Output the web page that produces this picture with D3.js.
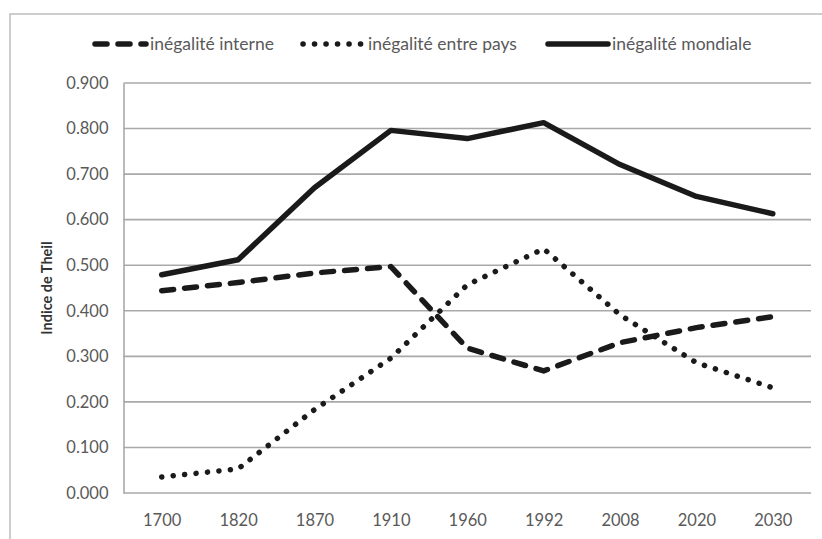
<!DOCTYPE html>
<html>
<head>
<meta charset="utf-8">
<script src="https://cdn.jsdelivr.net/npm/d3@7"></script>
<style>
  body { margin: 0; background: #fff; }
  svg { display: block; }
</style>
</head>
<body>
<div id="chart"></div>
<script>
// categories and series
var years = ["1700", "1820", "1870", "1910", "1960", "1992", "2008", "2020", "2030"];
var interne = [0.444, 0.462, 0.483, 0.497, 0.318, 0.268, 0.330, 0.363, 0.387];
var entrePays = [0.035, 0.053, 0.183, 0.296, 0.457, 0.536, 0.391, 0.286, 0.231];
var mondiale = [0.479, 0.512, 0.670, 0.796, 0.778, 0.813, 0.721, 0.651, 0.613];
var yTicks = [0, 0.1, 0.2, 0.3, 0.4, 0.5, 0.6, 0.7, 0.8, 0.9];

var series = [
  { name: "inégalité interne", values: interne, dash: "12 11" },
  { name: "inégalité entre pays", values: entrePays, dash: "0.1 11.4" },
  { name: "inégalité mondiale", values: mondiale, dash: null }
];

var width = 822, height = 539;
var margin = { top: 83, right: 11, bottom: 46, left: 123.5 };
var font = "Lato, 'Open Sans', sans-serif";
var textColor = "#595959";

var svg = d3.select("#chart")
  .append("svg")
  .attr("width", width)
  .attr("height", height);

// outer chart border (only top and left are inside the picture)
svg.append("path")
  .attr("d", "M10,539V14H822")
  .attr("fill", "none")
  .attr("stroke", "#bdbdbd")
  .attr("stroke-width", 1.5);

var x = d3.scalePoint()
  .domain(years)
  .range([margin.left, width - margin.right])
  .padding(0.5);

var y = d3.scaleLinear()
  .domain([0, 0.9])
  .range([height - margin.bottom, margin.top]);

// gridlines
svg.append("g")
  .selectAll("line")
  .data(yTicks)
  .enter()
  .append("line")
  .attr("x1", margin.left)
  .attr("x2", width - margin.right)
  .attr("y1", function (d) { return y(d); })
  .attr("y2", function (d) { return y(d); })
  .attr("stroke", "#a9a9a9")
  .attr("stroke-width", 1.6);

// y axis
var yAxis = svg.append("g")
  .attr("transform", "translate(" + margin.left + ",0)")
  .call(d3.axisLeft(y).tickValues(yTicks).tickFormat(d3.format(".3f")).tickSize(0).tickPadding(15));
yAxis.select(".domain").attr("stroke", "#a9a9a9").attr("stroke-width", 1.6);
yAxis.selectAll("text")
  .style("font-family", font)
  .style("font-size", "16.5px")
  .attr("fill", textColor);

// x axis labels
var xAxis = svg.append("g")
  .attr("transform", "translate(0," + (height - margin.bottom) + ")")
  .call(d3.axisBottom(x).tickSize(0).tickPadding(21));
xAxis.select(".domain").remove();
xAxis.selectAll("text")
  .style("font-family", font)
  .style("font-size", "16.5px")
  .attr("fill", textColor);

// axis title
svg.append("text")
  .attr("transform", "translate(52,288) rotate(-90)")
  .attr("text-anchor", "middle")
  .style("font-family", font)
  .style("font-size", "14.5px")
  .style("font-weight", "bold")
  .attr("fill", "#333")
  .text("Indice de Theil");

// lines
var line = d3.line()
  .x(function (d, i) { return x(years[i]); })
  .y(function (d) { return y(d); });

svg.append("g")
  .selectAll("path")
  .data(series)
  .enter()
  .append("path")
  .attr("d", function (d) { return line(d.values); })
  .attr("fill", "none")
  .attr("stroke", "#1a1a1a")
  .attr("stroke-width", 5.5)
  .attr("stroke-linecap", "round")
  .attr("stroke-linejoin", "round")
  .attr("stroke-dasharray", function (d) { return d.dash; });

// legend: sample start, sample end, text start
var legendPos = [[95, 146, 150], [303, 363, 368], [548, 608, 612]];
var legend = svg.append("g")
  .selectAll("g")
  .data(series)
  .enter()
  .append("g")
  .attr("transform", "translate(0,44)");

legend.append("line")
  .attr("x1", function (d, i) { return legendPos[i][0]; })
  .attr("x2", function (d, i) { return legendPos[i][1]; })
  .attr("stroke", "#1a1a1a")
  .attr("stroke-width", 5.5)
  .attr("stroke-linecap", "round")
  .attr("stroke-dasharray", function (d) { return d.dash; });

legend.append("text")
  .attr("x", function (d, i) { return legendPos[i][2]; })
  .attr("dy", "0.35em")
  .style("font-family", font)
  .style("font-size", "17.5px")
  .attr("fill", textColor)
  .text(function (d) { return d.name; });
</script>
</body>
</html>
